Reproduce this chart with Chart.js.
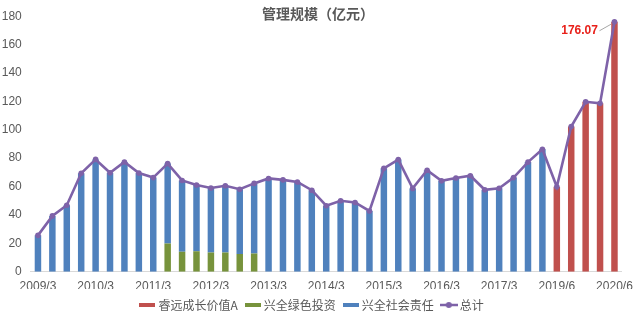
<!DOCTYPE html>
<html>
<head>
<meta charset="utf-8">
<script src="https://cdn.jsdelivr.net/npm/chart.js@4.4.1/dist/chart.umd.min.js"></script>
<style>
  html, body { margin: 0; padding: 0; background: #ffffff; }
  #wrap { width: 641px; height: 317px; }
</style>
</head>
<body>
<div id="wrap"><canvas id="aum" width="641" height="317"></canvas></div>
<script>
// Reporting quarters (year/month)
const quarters = [
  '2009/3','2009/6','2009/9','2009/12',
  '2010/3','2010/6','2010/9','2010/12',
  '2011/3','2011/6','2011/9','2011/12',
  '2012/3','2012/6','2012/9','2012/12',
  '2013/3','2013/6','2013/9','2013/12',
  '2014/3','2014/6','2014/9','2014/12',
  '2015/3','2015/6','2015/9','2015/12',
  '2016/3','2016/6','2016/9','2016/12',
  '2017/3','2017/6','2017/9','2017/12',
  '2019/6','2019/9','2019/12','2020/3','2020/6'
];

// Quarters that carry an axis label
const labelledQuarters = ['2009/3','2010/3','2011/3','2012/3','2013/3','2014/3',
                          '2015/3','2016/3','2017/3','2019/6','2020/6'];

// Fund size, 亿元
const ruiyuanGrowth = [
  null,null,null,null, null,null,null,null, null,null,null,null,
  null,null,null,null, null,null,null,null, null,null,null,null,
  null,null,null,null, null,null,null,null, null,null,null,null,
  59.8, 102.3, 119.7, 118.6, 176.07
];

const xingquanGreen = [
  null,null,null,null, null,null,null,null, null,
  19.8, 14.0, 14.4, 13.6, 13.6, 12.4, 12.9,
  null,null,null,null, null,null,null,null,
  null,null,null,null, null,null,null,null,
  null,null,null,null, null,null,null,null,null
];

const xingquanSocial = [
  25.6, 39.3, 46.8, 69.3,
  79.1, 69.7, 77.3, 69.5,
  66.3, 56.4, 50.3, 46.7,
  45.4, 46.9, 45.7, 49.3,
  65.7, 64.7, 63.2, 57.4,
  46.5, 50.0, 48.8, 42.8,
  72.8, 79.0, 58.7, 71.5,
  64.0, 66.0, 67.6, 57.7,
  58.8, 66.3, 77.2, 86.3,
  null, null, null, null, null
];

const totalSize = [
  25.6, 39.3, 46.8, 69.3,
  79.1, 69.7, 77.3, 69.5,
  66.3, 76.2, 64.3, 61.1,
  59.0, 60.5, 58.1, 62.2,
  65.7, 64.7, 63.2, 57.4,
  46.5, 50.0, 48.8, 42.8,
  72.8, 79.0, 58.7, 71.5,
  64.0, 66.0, 67.6, 57.7,
  58.8, 66.3, 77.2, 86.3,
  59.8, 102.3, 119.7, 118.6, 176.07
];

const yTickValues = [0, 20, 40, 60, 80, 100, 120, 140, 160, 180];

const COLORS = {
  ruiyuan: '#C0504D',
  green: '#77933C',
  social: '#4F81BD',
  total: '#7E62A8',
  text: '#595959',
  axis: '#D9D9D9'
};

const NUM_FONT = "'Liberation Sans', Arial, 'Noto Sans CJK SC', sans-serif";
const CJK_FONT = "'Noto Sans CJK SC', 'Liberation Sans', sans-serif";

// Small legend swatches: flat bars and a line with a marker
function swatchRect(color) {
  const c = document.createElement('canvas');
  c.width = 16; c.height = 4;
  const g = c.getContext('2d');
  g.fillStyle = color;
  g.fillRect(0, 0, 16, 4);
  return c;
}
function swatchLine(color) {
  const c = document.createElement('canvas');
  c.width = 18; c.height = 8;
  const g = c.getContext('2d');
  g.strokeStyle = color;
  g.lineWidth = 2.5;
  g.beginPath(); g.moveTo(0, 4); g.lineTo(18, 4); g.stroke();
  g.fillStyle = color;
  g.beginPath(); g.arc(9, 4, 3, 0, Math.PI * 2); g.fill();
  return c;
}
const legendSwatches = [
  swatchRect(COLORS.ruiyuan),
  swatchRect(COLORS.green),
  swatchRect(COLORS.social),
  swatchLine(COLORS.total)
];

// Chart heading, laid over the top of the plot
const headingPlugin = {
  id: 'heading',
  afterDraw(chart) {
    const ctx = chart.ctx;
    ctx.save();
    ctx.font = 'bold 14px ' + CJK_FONT;
    ctx.fillStyle = COLORS.text;
    ctx.textAlign = 'center';
    ctx.textBaseline = 'middle';
    ctx.fillText('管理规模（亿元）', 318, 14);
    ctx.restore();
  }
};

// Callout with the latest total
const latestCallout = {
  id: 'latestCallout',
  afterDatasetsDraw(chart) {
    const dsIndex = 3;
    const meta = chart.getDatasetMeta(dsIndex);
    const last = totalSize.length - 1;
    const pt = meta.data[last];
    if (!pt) return;
    const ctx = chart.ctx;
    ctx.save();
    ctx.strokeStyle = '#A6A6A6';
    ctx.lineWidth = 1;
    ctx.beginPath();
    ctx.moveTo(pt.x - 15, pt.y + 9);
    ctx.lineTo(pt.x - 3.5, pt.y + 2.5);
    ctx.stroke();
    ctx.font = 'bold 12px ' + NUM_FONT;
    ctx.fillStyle = '#E8201A';
    ctx.textAlign = 'right';
    ctx.textBaseline = 'middle';
    ctx.fillText(totalSize[last].toFixed(2), pt.x - 16.5, pt.y + 9);
    ctx.restore();
  }
};

new Chart(document.getElementById('aum'), {
  data: {
    labels: quarters,
    datasets: [
      { type: 'bar', label: '睿远成长价值A', data: ruiyuanGrowth,
        backgroundColor: COLORS.ruiyuan, stack: 'funds', order: 2,
        categoryPercentage: 1, barPercentage: 0.45 },
      { type: 'bar', label: '兴全绿色投资', data: xingquanGreen,
        backgroundColor: COLORS.green, stack: 'funds', order: 2,
        categoryPercentage: 1, barPercentage: 0.45 },
      { type: 'bar', label: '兴全社会责任', data: xingquanSocial,
        backgroundColor: COLORS.social, stack: 'funds', order: 2,
        categoryPercentage: 1, barPercentage: 0.45 },
      { type: 'line', label: '总计', data: totalSize, stack: 'sum', order: 1,
        borderColor: COLORS.total, backgroundColor: COLORS.total,
        borderWidth: 2.6, tension: 0, pointRadius: 2.8, pointHoverRadius: 2.8,
        pointBackgroundColor: COLORS.total, pointBorderWidth: 0 }
    ]
  },
  options: {
    responsive: false,
    maintainAspectRatio: false,
    animation: false,
    devicePixelRatio: 1,
    layout: { padding: { left: 0, right: 14.75, top: 13.6, bottom: -4 } },
    scales: {
      x: {
        stacked: true,
        offset: true,
        grid: { display: false, drawTicks: false },
        border: { display: true, color: COLORS.axis, width: 1 },
        ticks: {
          autoSkip: false, maxRotation: 0, minRotation: 0, padding: 8,
          color: COLORS.text, font: { family: NUM_FONT, size: 12 },
          callback: (v, i) => labelledQuarters.includes(quarters[i]) ? quarters[i] : ''
        },
        afterFit: (scale) => { scale.height = 17.3; }
      },
      y: {
        stacked: true,
        min: 0, max: 180,
        afterBuildTicks: (scale) => { scale.ticks = yTickValues.map(v => ({ value: v })); },
        grid: { display: false, drawTicks: false },
        border: { display: false },
        ticks: { padding: 9, color: COLORS.text, font: { family: NUM_FONT, size: 12 } },
        afterFit: (scale) => { scale.width = 30.75; }
      }
    },
    plugins: {
      legend: {
        position: 'bottom',
        labels: {
          usePointStyle: true,
          pointStyleWidth: 10,
          boxHeight: 12,
          padding: 10,
          color: COLORS.text,
          font: { family: CJK_FONT, size: 12 },
          sort: (a, b) => a.datasetIndex - b.datasetIndex,
          generateLabels: (chart) => {
            const items = Chart.defaults.plugins.legend.labels.generateLabels(chart);
            items.forEach(it => { it.pointStyle = legendSwatches[it.datasetIndex]; });
            return items;
          }
        }
      },
      tooltip: { enabled: false }
    }
  },
  plugins: [headingPlugin, latestCallout]
});
</script>
</body>
</html>
